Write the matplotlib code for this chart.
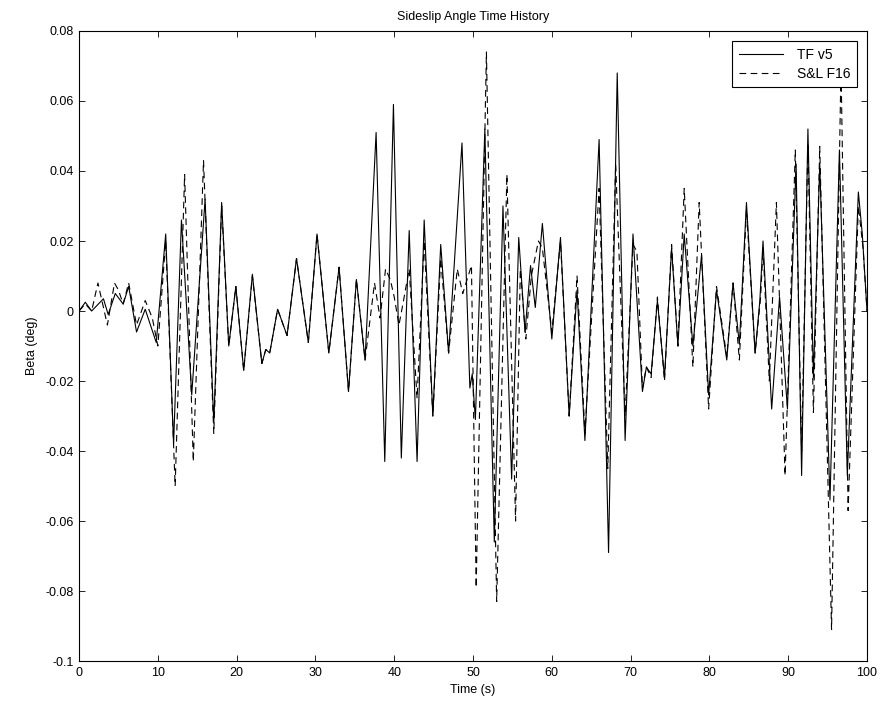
import matplotlib
matplotlib.use("Agg")
import matplotlib.pyplot as plt

# TF v5 (solid) - peaks/troughs
tf_time = [
    0.0, 0.8, 1.6, 3.1, 3.7, 4.6, 5.6, 6.3, 7.3, 8.4,
    9.8, 11.0, 12.0, 13.0, 14.3, 16.0, 17.1, 18.1, 19.0, 19.9,
    20.9, 22.0, 23.2, 23.7, 24.2, 25.2, 26.4, 27.6, 29.1, 30.2,
    31.7, 33.0, 34.2, 35.2, 36.3, 37.7, 38.8, 39.9, 40.9, 41.9,
    42.9, 43.8, 44.9, 45.9, 46.9, 48.6, 49.6, 49.9, 50.3, 51.5,
    52.7, 53.8, 54.9, 55.8, 56.6, 57.3, 57.9, 58.8, 60.0, 61.1,
    62.2, 63.2, 64.2, 66.0, 67.2, 68.3, 69.3, 70.3, 71.5, 72.0,
    72.6, 73.4, 74.3, 75.2, 76.0, 76.8, 77.9, 79.0, 79.9, 80.9,
    82.2, 83.0, 83.8, 84.7, 85.8, 86.4, 86.8, 87.9, 88.9, 89.9,
    91.0, 91.7, 92.5, 93.2, 94.0, 95.3, 96.5, 97.5, 98.9, 99.4,
    100.0]
tf_beta = [
    0.0, 0.0025, 0.0, 0.0035, -0.001, 0.005, 0.002, 0.007, -0.006, 0.0005,
    -0.009, 0.022, -0.038, 0.026, -0.024, 0.032, -0.032, 0.031, -0.010, 0.007,
    -0.017, 0.0105, -0.015, -0.011, -0.012, 0.0005, -0.007, 0.015, -0.009, 0.022,
    -0.012, 0.0125, -0.023, 0.009, -0.014, 0.051, -0.043, 0.059, -0.042, 0.023,
    -0.043, 0.026, -0.030, 0.019, -0.012, 0.048, -0.022, -0.018, -0.031, 0.052,
    -0.066, 0.030, -0.048, 0.021, -0.006, 0.013, 0.001, 0.025, -0.008, 0.021,
    -0.030, 0.006, -0.037, 0.049, -0.069, 0.068, -0.037, 0.022, -0.023, -0.016,
    -0.018, 0.003, -0.019, 0.018, -0.010, 0.022, -0.010, 0.016, -0.024, 0.006,
    -0.014, 0.008, -0.0095, 0.031, -0.012, 0.003, 0.020, -0.028, 0.004, -0.028,
    0.042, -0.047, 0.052, -0.019, 0.042, -0.054, 0.046, -0.047, 0.034, 0.022,
    0.0]

# S&L F16 (dashed)
sl_time = [
    0.0, 0.8, 1.6, 2.4, 3.0, 3.6, 4.5, 5.0, 5.6, 6.3,
    7.3, 8.4, 9.3, 10.0, 11.0, 12.2, 13.4, 14.5, 15.8, 17.1,
    18.1, 19.0, 19.9, 20.9, 22.0, 23.2, 23.7, 24.2, 25.2, 26.4,
    27.6, 29.1, 30.2, 31.7, 33.0, 34.2, 35.2, 36.3, 37.5, 38.2,
    38.9, 39.5, 40.0, 40.6, 41.1, 41.9, 42.9, 43.8, 44.9, 45.9,
    46.9, 48.0, 48.7, 49.8, 50.4, 51.7, 53.0, 54.3, 55.4, 56.0,
    56.7, 57.4, 58.3, 58.8, 60.0, 61.1, 62.2, 63.2, 64.2, 66.0,
    67.1, 68.1, 69.3, 70.3, 70.8, 71.5, 72.0, 72.6, 73.4, 74.3,
    75.2, 76.0, 76.8, 77.9, 78.7, 79.9, 80.9, 82.2, 83.0, 83.8,
    84.7, 85.8, 86.5, 86.8, 87.6, 88.5, 89.6, 90.9, 91.7, 92.5,
    93.2, 94.0, 95.5, 96.7, 97.6, 98.9, 99.5, 100.0]
sl_beta = [
    0.0, 0.002, 0.0, 0.008, 0.002, -0.004, 0.008, 0.006, 0.002, 0.008,
    -0.004, 0.003, -0.002, -0.010, 0.020, -0.050, 0.039, -0.043, 0.043, -0.035,
    0.030, -0.010, 0.007, -0.017, 0.010, -0.015, -0.011, -0.012, 0.0005, -0.007,
    0.015, -0.009, 0.022, -0.012, 0.0125, -0.023, 0.009, -0.014, 0.008, -0.002,
    0.012, 0.009, 0.004, -0.004, 0.002, 0.012, -0.025, 0.020, -0.030, 0.015,
    -0.012, 0.012, 0.005, 0.013, -0.079, 0.074, -0.083, 0.039, -0.060, 0.012,
    -0.008, 0.010, 0.020, 0.018, -0.006, 0.020, -0.030, 0.010, -0.035, 0.035,
    -0.045, 0.042, -0.030, 0.019, 0.017, -0.022, -0.016, -0.019, 0.004, -0.020,
    0.019, -0.010, 0.035, -0.016, 0.031, -0.028, 0.007, -0.013, 0.008, -0.014,
    0.029, -0.012, 0.004, 0.018, -0.020, 0.031, -0.047, 0.046, -0.040, 0.048,
    -0.029, 0.047, -0.091, 0.070, -0.057, 0.030, 0.018, 0.0]

x_ticks = [0, 10, 20, 30, 40, 50, 60, 70, 80, 90, 100]
y_ticks = [-0.1, -0.08, -0.06, -0.04, -0.02, 0, 0.02, 0.04, 0.06, 0.08]
y_labels = ["-0.1", "-0.08", "-0.06", "-0.04", "-0.02", "0", "0.02", "0.04", "0.06", "0.08"]

plt.rcParams['font.family'] = ['Liberation Sans', 'DejaVu Sans']
plt.rcParams['font.size'] = 9

fig = plt.figure(figsize=(8.83, 7.04), dpi=100)
# axes box roughly x 79..867, y 31..661 px
ax = fig.add_axes([0.0895, 0.061, 0.8924, 0.895])

ax.plot(tf_time, tf_beta, color='black', lw=0.8, label='TF v5')
ax.plot(sl_time, sl_beta, color='black', lw=0.8, linestyle=(0, (6, 4)), label='S&L F16')

ax.set_xlim(0, 100)
ax.set_ylim(-0.1, 0.08)
ax.set_xticks(x_ticks)
ax.set_yticks(y_ticks)
ax.set_yticklabels(y_labels)
ax.tick_params(direction='in', top=True, right=True, length=4, width=0.6, pad=4)
for s in ax.spines.values():
    s.set_linewidth(0.8)

ax.set_title('Sideslip Angle Time History', fontsize=9, pad=8)
ax.set_xlabel('Time (s)', labelpad=4)
ax.set_ylabel('Beta (deg)', labelpad=5)

leg = ax.legend(loc='upper right', frameon=True, fancybox=False, framealpha=1,
                edgecolor='black', handlelength=3.2, handletextpad=1.0,
                borderaxespad=0.7, fontsize=10, borderpad=0.5, labelspacing=0.35)
leg.get_frame().set_linewidth(0.8)

fig.savefig('out.png', dpi=100)
